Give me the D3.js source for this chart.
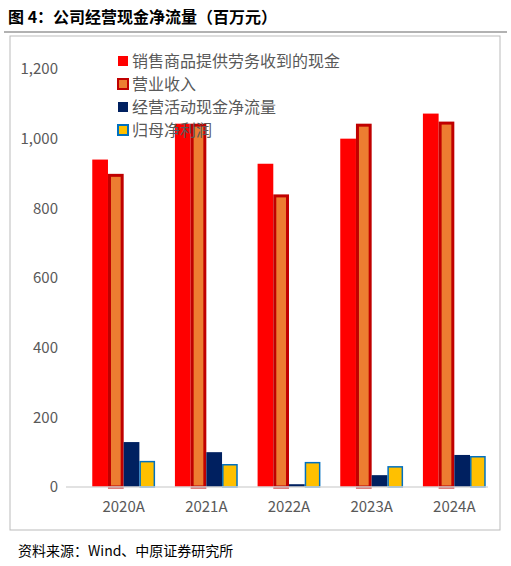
<!DOCTYPE html>
<html><head><meta charset="utf-8">
<script src="https://cdn.jsdelivr.net/npm/d3@7"></script>
<style>body{margin:0;background:#fff}text{font-family:"Noto Sans CJK SC","Noto Sans",sans-serif}</style>
</head><body><svg id="c" width="511" height="566"></svg>
<script>
const years = ['2020A', '2021A', '2022A', '2023A', '2024A'];
const seriesNames = ['销售商品提供劳务收到的现金', '营业收入', '经营活动现金净流量', '归母净利润'];
const salesCash = [940, 1043, 928, 1000, 1072];
const revenue = [899, 1043, 840, 1043, 1049];
const opCashFlow = [129, 100, 8, 34, 92];
const netProfit = [75, 66, 72, 60, 89];
const yTicks = [0, 200, 400, 600, 800, 1000, 1200];

const values = [salesCash, revenue, opCashFlow, netProfit];
const fills = ['#ff0000', '#ed7d31', '#002060', '#ffc000'];
const strokes = ['none', '#c00000', 'none', '#0070c0'];
const strokeW = [0, 3, 0, 1.5];

const svg = d3.select('#c');
svg.append('text').attr('x', 8).attr('y', 23).attr('font-size', 16).attr('font-weight', 'bold')
  .text('图 4：公司经营现金净流量（百万元）');
svg.append('line').attr('x1', 4).attr('x2', 507).attr('y1', 32).attr('y2', 32).attr('stroke', '#999').attr('stroke-width', 1.5);
svg.append('rect').attr('x', 10).attr('y', 36).attr('width', 490).attr('height', 494)
  .attr('fill', 'none').attr('stroke', '#bbb');

const x = d3.scaleBand().domain(years).range([84, 494]).paddingInner(0.24).paddingOuter(0.1);
const y = d3.scaleLinear().domain([0, 1200]).range([487, 69]);
const xs = d3.scaleBand().domain(d3.range(4)).range([0, x.bandwidth()]);

const yAxis = svg.append('g').attr('transform', 'translate(64,0)')
  .call(d3.axisLeft(y).tickValues(yTicks).tickFormat(d3.format(',')).tickSize(0).tickPadding(6));
yAxis.select('.domain').remove();
yAxis.selectAll('text').attr('font-size', 15).attr('fill', '#595959');

const g = svg.append('g');
values.forEach((vals, s) => {
  g.selectAll('.s' + s).data(vals).join('rect')
    .attr('x', (d, i) => x(years[i]) + xs(s) + strokeW[s] / 2)
    .attr('width', xs.bandwidth() - strokeW[s])
    .attr('y', d => y(d) + strokeW[s] / 2)
    .attr('height', d => y(0) - y(d) - strokeW[s] / 2)
    .attr('fill', fills[s]).attr('stroke', strokes[s]).attr('stroke-width', strokeW[s]);
});

const xAxis = svg.append('g').attr('transform', 'translate(0,487)')
  .call(d3.axisBottom(x).tickSize(0).tickPadding(14));
xAxis.select('.domain').attr('d', 'M66,0H488').attr('stroke', '#d9d9d9').attr('stroke-width', 1.5);
xAxis.selectAll('text').attr('font-size', 15).attr('fill', '#595959');

const lg = svg.append('g').attr('transform', 'translate(118,62)');
seriesNames.forEach((n, i) => {
  const r = lg.append('g').attr('transform', `translate(0,${i * 23})`);
  r.append('rect').attr('x', 0).attr('y', -6).attr('width', 10).attr('height', 10)
    .attr('fill', fills[i]).attr('stroke', strokes[i]).attr('stroke-width', strokeW[i] ? 2 : 0);
  r.append('text').attr('x', 14).attr('y', 5).attr('font-size', 16).attr('fill', '#595959').text(n);
});

svg.append('text').attr('x', 18).attr('y', 556).attr('font-size', 14).text('资料来源：Wind、中原证券研究所');
</script></body></html>
